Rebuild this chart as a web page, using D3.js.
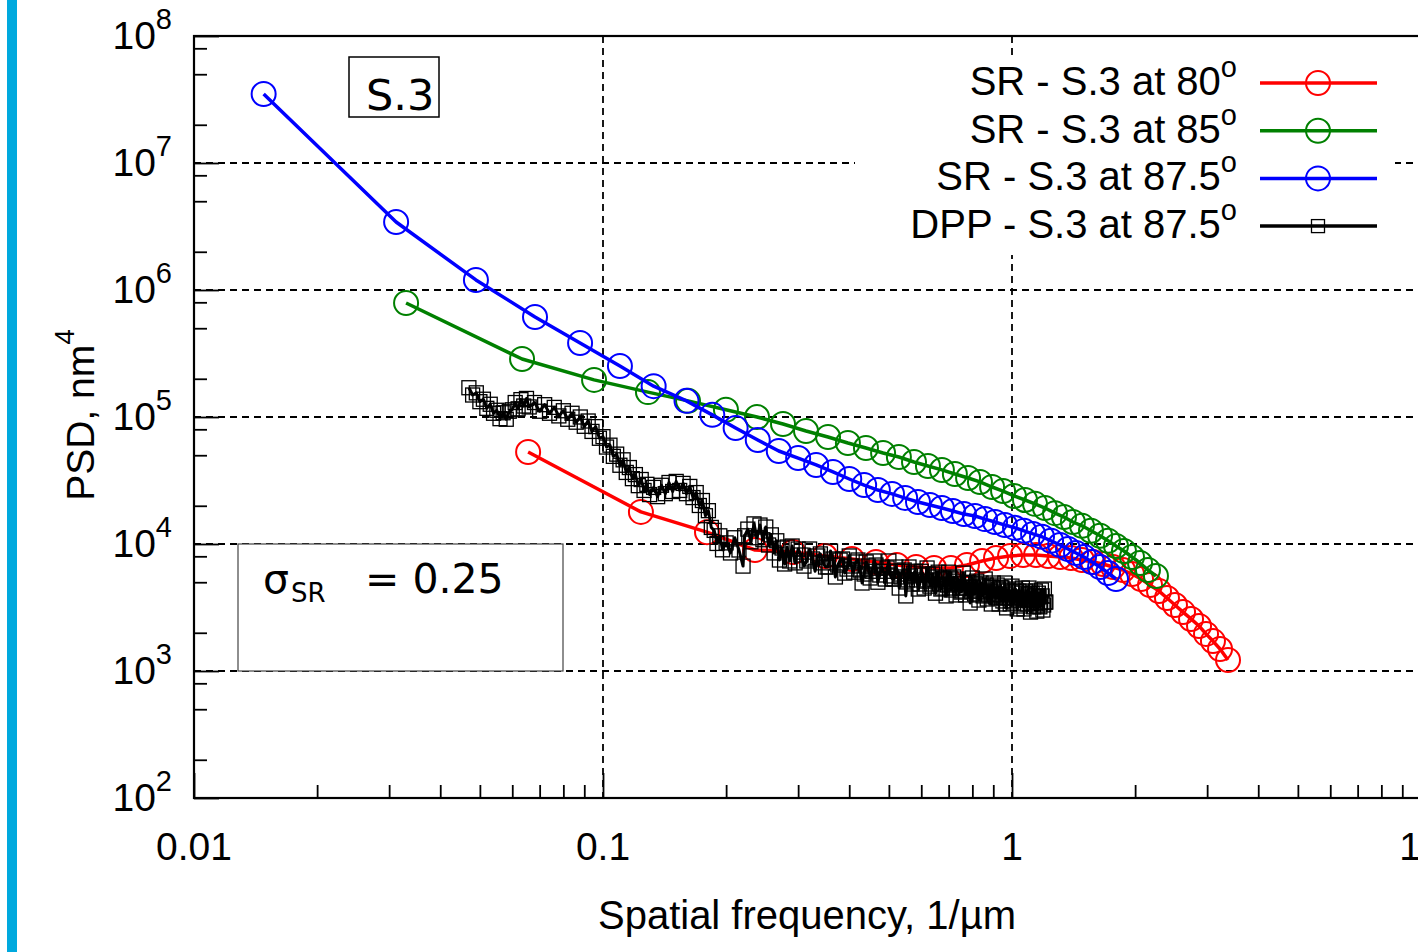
<!DOCTYPE html>
<html><head><meta charset="utf-8">
<script src="https://cdn.jsdelivr.net/npm/d3@7"></script>
<style>body{margin:0;background:#fff;overflow:hidden}svg{display:block}</style>
</head><body>
<svg id="c" width="1418" height="952"></svg>
<script>
// ---------------- data (frequency 1/µm, PSD nm^4) ----------------
const sr80 = [[0.0656,5.30e4],[0.1238,1.79e4],[0.1796,1.24e4],[0.2353,8.97e3],[0.2914,8.65e3],[0.349,8.05e3],[0.406,7.62e3],[0.465,7.22e3],[0.523,6.83e3],[0.583,6.59e3],[0.645,6.47e3],[0.709,6.47e3],[0.776,6.83e3],[0.845,7.35e3],[0.914,7.76e3],[0.989,8.05e3],[1.064,8.19e3],[1.145,8.19e3],[1.225,8.05e3],[1.311,7.90e3],[1.394,7.76e3],[1.483,7.48e3],[1.578,7.22e3],[1.669,6.96e3],[1.766,6.59e3],[1.868,6.24e3],[1.965,5.80e3],[2.068,5.30e3],[2.175,4.75e3],[2.288,4.26e3],[2.393,3.76e3],[2.503,3.31e3],[2.619,2.91e3],[2.740,2.57e3],[2.866,2.26e3],[2.981,1.96e3],[3.100,1.72e3],[3.226,1.49e3],[3.374,1.22e3]];
const sr85 = [[0.0330,7.90e5],[0.0634,2.86e5],[0.0951,1.96e5],[0.1288,1.57e5],[0.1614,1.34e5],[0.1998,1.14e5],[0.238,1.00e5],[0.2755,8.81e4],[0.3136,7.76e4],[0.355,6.96e4],[0.397,6.24e4],[0.4395,5.70e4],[0.484,5.21e4],[0.529,4.84e4],[0.576,4.42e4],[0.623,4.11e4],[0.674,3.83e4],[0.725,3.56e4],[0.781,3.31e4],[0.835,3.08e4],[0.894,2.81e4],[0.951,2.61e4],[1.011,2.39e4],[1.076,2.22e4],[1.138,2.07e4],[1.204,1.92e4],[1.274,1.75e4],[1.340,1.63e4],[1.409,1.49e4],[1.483,1.39e4],[1.560,1.27e4],[1.642,1.16e4],[1.717,1.06e4],[1.796,9.64e3],[1.878,8.81e3],[1.965,7.90e3],[2.056,7.09e3],[2.150,6.24e3],[2.249,5.60e3]];
const sr875 = [[0.0148,3.49e7],[0.0312,3.43e6],[0.0489,1.20e6],[0.0682,6.13e5],[0.0879,3.83e5],[0.110,2.52e5],[0.133,1.75e5],[0.160,1.34e5],[0.185,1.04e5],[0.211,8.19e4],[0.239,6.59e4],[0.269,5.40e4],[0.300,4.75e4],[0.332,4.19e4],[0.365,3.69e4],[0.400,3.25e4],[0.435,2.91e4],[0.470,2.66e4],[0.509,2.48e4],[0.548,2.30e4],[0.589,2.14e4],[0.630,2.03e4],[0.674,1.92e4],[0.717,1.82e4],[0.763,1.72e4],[0.812,1.66e4],[0.859,1.57e4],[0.909,1.49e4],[0.961,1.41e4],[1.017,1.34e4],[1.070,1.27e4],[1.126,1.20e4],[1.184,1.14e4],[1.246,1.06e4],[1.311,9.82e3],[1.371,9.13e3],[1.434,8.50e3],[1.500,7.90e3],[1.569,7.22e3],[1.642,6.59e3],[1.717,5.91e3],[1.796,5.30e3]];
const dpp = [[0.047,1.70e5],[0.048,1.49e5],[0.049,1.55e5],[0.050,1.32e5],[0.051,1.38e5],[0.052,1.17e5],[0.053,1.26e5],[0.054,1.07e5],[0.055,1.13e5],[0.056,9.7e4],[0.057,1.08e5],[0.058,9.6e4],[0.059,1.11e5],[0.060,1.14e5],[0.061,1.30e5],[0.062,1.16e5],[0.063,1.37e5],[0.064,1.22e5],[0.065,1.40e5],[0.066,1.20e5],[0.068,1.30e5],[0.070,1.11e5],[0.072,1.25e5],[0.074,1.07e5],[0.076,1.19e5],[0.078,1.02e5],[0.080,1.12e5],[0.082,9.6e4],[0.084,1.07e5],[0.086,9.1e4],[0.088,1.0e5],[0.090,8.45e4],[0.092,9.3e4],[0.094,7.7e4],[0.096,8.4e4],[0.098,6.8e4],[0.100,7.0e4],[0.102,5.8e4],[0.104,6.0e4],[0.106,4.9e4],[0.108,5.1e4],[0.110,4.17e4],[0.112,4.6e4],[0.114,3.66e4],[0.116,4.0e4],[0.118,3.27e4],[0.120,3.52e4],[0.122,2.88e4],[0.124,3.22e4],[0.126,2.64e4],[0.128,2.95e4],[0.130,2.45e4],[0.133,2.79e4],[0.136,2.36e4],[0.139,2.90e4],[0.142,2.49e4],[0.145,3.05e4],[0.148,2.59e4],[0.151,3.11e4],[0.154,2.64e4],[0.157,3.0e4],[0.160,2.49e4],[0.163,2.84e4],[0.166,2.32e4],[0.169,2.54e4],[0.172,2.01e4],[0.175,2.2e4],[0.178,1.67e4],[0.181,1.83e4],[0.184,1.35e4],[0.187,1.28e4],[0.190,1.01e4],[0.193,1.16e4],[0.196,9.0e3],[0.200,1.02e4],[0.205,8.5e3],[0.210,1.12e4],[0.215,8.97e3],[0.220,6.7e3],[0.222,1.16e4],[0.226,1.31e4],[0.230,1.04e4],[0.234,1.44e4],[0.238,1.12e4],[0.242,1.41e4],[0.246,1.08e4],[0.250,1.36e4],[0.254,9.82e3],[0.258,1.18e4],[0.262,8.5e3],[0.266,1.06e4],[0.270,7.48e3],[0.274,9.3e3],[0.278,6.96e3],[0.282,9.47e3],[0.286,7.35e3],[0.290,9.64e3],[0.295,7.1e3],[0.300,9.13e3],
[0.31,6.7e3],[0.32,9.13e3],[0.33,6.1e3],[0.34,8.35e3],[0.35,6.59e3],[0.36,8.8e3],[0.37,5.5e3],[0.38,7.48e3],[0.39,5.9e3],[0.40,8.05e3],[0.41,6.0e3],[0.42,7.48e3],[0.43,4.93e3],[0.44,7.22e3],[0.45,5.4e3],[0.46,7.35e3],[0.47,5.0e3],[0.48,6.59e3],[0.49,5.3e3],[0.50,7.35e3],[0.51,5.3e3],[0.52,6.59e3],[0.53,4.5e3],[0.54,6.1e3],[0.55,3.9e3],[0.56,6.59e3],[0.57,4.84e3],[0.58,6.1e3],[0.59,4.42e3],[0.60,6.1e3],[0.61,4.5e3],[0.62,6.47e3],[0.63,4.66e3],[0.64,5.8e3],[0.65,4.1e3],[0.66,6.0e3],[0.67,4.42e3],[0.68,5.4e3],[0.69,3.9e3],[0.70,6.0e3],[0.71,4.34e3],[0.72,5.5e3],[0.73,3.97e3],[0.74,5.3e3],[0.75,4.18e3],[0.76,5.9e3],[0.77,3.97e3],[0.78,4.93e3],[0.79,3.43e3],[0.80,5.4e3],[0.81,4.04e3],[0.82,5.1e3],[0.83,3.62e3],[0.84,4.93e3],[0.85,3.9e3],[0.86,5.3e3],[0.87,3.69e3],[0.88,4.57e3],[0.89,3.37e3],[0.90,4.93e3],[0.91,3.83e3],[0.92,4.75e3],[0.93,3.37e3],[0.94,4.57e3],[0.95,3.56e3],[0.96,4.93e3],[0.97,3.14e3],[0.98,4.26e3],[0.99,3.37e3],[1.00,4.66e3],[1.01,3.43e3],[1.02,4.42e3],[1.03,3.08e3],[1.04,4.26e3],[1.05,3.25e3],[1.06,4.5e3],[1.07,3.08e3],[1.08,4.26e3],[1.09,3.37e3],[1.10,4.5e3],[1.11,2.91e3],[1.12,4.1e3],[1.13,3.2e3],[1.14,4.26e3],[1.15,2.96e3],[1.16,4.1e3],[1.17,3.2e3],[1.18,4.34e3],[1.19,3.02e3],[1.20,4.42e3],[1.21,3.49e3],
[0.305,8.19e3],[0.315,7.35e3],[0.325,7.62e3],[0.335,8.05e3],[0.345,7.1e3],[0.355,6.59e3],[0.365,7.62e3],[0.375,6.83e3],[0.385,7.62e3],[0.395,6.35e3],[0.405,6.71e3],[0.415,7.22e3],[0.425,6.24e3],[0.435,5.8e3],[0.445,6.71e3],[0.455,6.1e3],[0.465,6.83e3],[0.475,5.7e3],[0.485,6.1e3],[0.495,6.47e3],[0.505,5.6e3],[0.515,5.3e3],[0.525,6.1e3],[0.535,5.5e3],[0.545,6.24e3],[0.555,5.21e3],[0.565,5.6e3],[0.575,5.9e3],[0.585,5.21e3],[0.595,4.84e3],[0.605,5.7e3],[0.615,5.1e3],[0.625,5.8e3],[0.635,4.84e3],[0.645,5.21e3],[0.655,5.5e3],[0.665,4.84e3],[0.675,4.5e3],[0.685,5.3e3],[0.695,4.75e3],[0.705,5.4e3],[0.715,4.5e3],[0.725,4.84e3],[0.735,5.1e3],[0.745,4.5e3],[0.755,4.26e3],[0.765,4.93e3],[0.775,4.5e3],[0.785,5.0e3],[0.795,4.26e3],[0.805,4.57e3],[0.815,4.84e3],[0.825,4.26e3],[0.835,3.97e3],[0.845,4.66e3],[0.855,4.18e3],[0.865,4.75e3],[0.875,4.04e3],[0.885,4.26e3],[0.895,4.57e3],[0.905,3.97e3],[0.915,3.76e3],[0.925,4.42e3],[0.935,3.97e3],[0.945,4.5e3],[0.955,3.76e3],[0.965,4.04e3],[0.975,4.34e3],[0.985,3.76e3],[0.995,3.56e3],[1.005,4.18e3],[1.015,3.76e3],[1.025,4.26e3],[1.035,3.62e3],[1.045,3.83e3],[1.055,4.1e3],[1.065,3.62e3],[1.075,3.37e3],[1.085,3.97e3],[1.095,3.62e3],[1.105,4.04e3],[1.115,3.43e3],[1.125,3.69e3],[1.135,3.9e3],[1.145,3.43e3],[1.155,3.25e3],[1.165,3.83e3],[1.175,3.43e3],[1.185,3.9e3],[1.195,3.31e3],[1.205,3.49e3]];

const seriesNames = ['SR - S.3 at 80','SR - S.3 at 85','SR - S.3 at 87.5','DPP - S.3 at 87.5'];
const seriesColors = ['#ff0000','#008000','#0000ff','#000000'];
const xTickValues = [0.01,0.1,1,10];
const xTickLabels = ['0.01','0.1','1','10'];
const yTickValues = [1e2,1e3,1e4,1e5,1e6,1e7,1e8];
const yTickExps = ['2','3','4','5','6','7','8'];
const xTitle = 'Spatial frequency, 1/µm';
const yTitle = 'PSD, nm';
const sampleLabel = 'S.3';
const sigmaValue = '= 0.25';

// ---------------- drawing ----------------
const svg = d3.select('#c');
const W = 1418, H = 952;
const L = 194, R = 1421, T = 36, B = 798;
const x = d3.scaleLog().domain([0.01, 10]).range([L, R]);
const y = d3.scaleLog().domain([1e2, 1e8]).range([B, T]);

svg.append('rect').attr('width', W).attr('height', H).attr('fill', '#fff');
svg.append('rect').attr('x', 7).attr('y', 0).attr('width', 10).attr('height', H).attr('fill', '#00a9de');

const xMinor = [];
[0.01, 0.1, 1].forEach(d => { for (let k = 2; k <= 9; k++) xMinor.push(d * k); });
const yMinor = [];
[1e2, 1e3, 1e4, 1e5, 1e6, 1e7].forEach(d => { [2, 5, 8].forEach(k => yMinor.push(d * k)); });

// grid
const grid = svg.append('g').attr('stroke', '#000').attr('stroke-width', 1.8).attr('stroke-dasharray', '7,5');
grid.selectAll('.gx').data(xTickValues.slice(1)).join('line')
  .attr('x1', d => x(d)).attr('x2', d => x(d)).attr('y1', T).attr('y2', B);
grid.selectAll('.gy').data(yTickValues.slice(1)).join('line')
  .attr('x1', L).attr('x2', R).attr('y1', d => y(d)).attr('y2', d => y(d));

// boxes that hide the grid
svg.append('rect').attr('x', 855).attr('y', 55).attr('width', 540).attr('height', 200).attr('fill', '#fff');
svg.append('rect').attr('x', 349).attr('y', 57).attr('width', 90).attr('height', 60)
  .attr('fill', '#fff').attr('stroke', '#000').attr('stroke-width', 1.5);
svg.append('text').attr('x', 366).attr('y', 110).attr('font-family', 'DejaVu Sans')
  .attr('font-size', 43).attr('fill', '#000').text(sampleLabel);
svg.append('rect').attr('x', 238).attr('y', y(1e4)).attr('width', 325).attr('height', y(1e3) - y(1e4))
  .attr('fill', '#fff').attr('stroke', '#444').attr('stroke-width', 1.2);
svg.append('text').attr('x', 263).attr('y', 593).attr('font-family', 'DejaVu Sans').attr('font-size', 41).text('σ');
svg.append('text').attr('x', 291).attr('y', 602).attr('font-family', 'DejaVu Sans').attr('font-size', 26).text('SR');
svg.append('text').attr('x', 365).attr('y', 593).attr('font-family', 'DejaVu Sans').attr('font-size', 41).text(sigmaValue);

// series
const all = [sr80, sr85, sr875];
const line = d3.line().x(d => x(d[0])).y(d => y(d[1]));
all.forEach((s, i) => {
  const g = svg.append('g');
  g.append('path').datum(s).attr('d', line).attr('fill', 'none')
    .attr('stroke', seriesColors[i]).attr('stroke-width', 3.5).attr('stroke-linejoin', 'round');
  g.selectAll('circle').data(s).join('circle')
    .attr('cx', d => x(d[0])).attr('cy', d => y(d[1])).attr('r', 12)
    .attr('fill', 'none').attr('stroke', seriesColors[i]).attr('stroke-width', 2);
});
const dppSorted = dpp.slice().sort((a, b) => a[0] - b[0]);
const gd = svg.append('g');
gd.append('path').datum(dppSorted).attr('d', line).attr('fill', 'none')
  .attr('stroke', '#000').attr('stroke-width', 3).attr('stroke-linejoin', 'round');
gd.selectAll('rect').data(dppSorted).join('rect')
  .attr('x', d => x(d[0]) - 7).attr('y', d => y(d[1]) - 7).attr('width', 14).attr('height', 14)
  .attr('fill', 'none').attr('stroke', '#000').attr('stroke-width', 1.3);

// axes ticks (inward)
const axL = svg.append('g').attr('transform', `translate(${L},0)`)
  .call(d3.axisRight(y).tickValues(yTickValues).tickSize(25).tickFormat(''));
const axLm = svg.append('g').attr('transform', `translate(${L},0)`)
  .call(d3.axisRight(y).tickValues(yMinor).tickSize(13).tickFormat(''));
const axB = svg.append('g').attr('transform', `translate(0,${B})`)
  .call(d3.axisTop(x).tickValues(xTickValues).tickSize(25).tickFormat(''));
const axBm = svg.append('g').attr('transform', `translate(0,${B})`)
  .call(d3.axisTop(x).tickValues(xMinor).tickSize(13).tickFormat(''));
[axL, axLm, axB, axBm].forEach(a => {
  a.select('.domain').remove();
  a.selectAll('line').attr('stroke', '#000').attr('stroke-width', 1.8);
});

// border
svg.append('rect').attr('x', L).attr('y', T).attr('width', R - L).attr('height', B - T)
  .attr('fill', 'none').attr('stroke', '#000').attr('stroke-width', 2.2);

// tick labels
const ff = 'Liberation Sans, Arial, sans-serif';
svg.append('g').selectAll('text').data(xTickValues).join('text')
  .attr('x', d => x(d)).attr('y', 860).attr('text-anchor', 'middle')
  .attr('font-family', ff).attr('font-size', 39).text((d, i) => xTickLabels[i]);
const yl = svg.append('g').selectAll('text').data(yTickValues).join('text')
  .attr('x', 172).attr('y', d => y(d) + 13).attr('text-anchor', 'end')
  .attr('font-family', ff).attr('font-size', 39);
yl.append('tspan').text('10');
yl.append('tspan').attr('font-size', 29).attr('dy', -20).text((d, i) => yTickExps[i]);

// axis titles
svg.append('text').attr('x', 807).attr('y', 929).attr('text-anchor', 'middle')
  .attr('font-family', ff).attr('font-size', 40).text(xTitle);
const yt = svg.append('text').attr('transform', 'translate(94,415) rotate(-90)')
  .attr('text-anchor', 'middle').attr('font-family', ff).attr('font-size', 39);
yt.append('tspan').text(yTitle);
yt.append('tspan').attr('font-size', 28).attr('dy', -20).text('4');

// legend
seriesNames.forEach((name, i) => {
  const ly = 83 + i * 47.7;
  const t = svg.append('text').attr('x', 1237).attr('y', ly + 12).attr('text-anchor', 'end')
    .attr('font-family', ff).attr('font-size', 40);
  t.append('tspan').text(name);
  t.append('tspan').attr('font-size', 29).attr('dy', -18).text('o');
  svg.append('line').attr('x1', 1260).attr('x2', 1377).attr('y1', ly).attr('y2', ly)
    .attr('stroke', seriesColors[i]).attr('stroke-width', 3.5);
  if (i < 3) {
    svg.append('circle').attr('cx', 1318).attr('cy', ly).attr('r', 12)
      .attr('fill', 'none').attr('stroke', seriesColors[i]).attr('stroke-width', 2);
  } else {
    svg.append('rect').attr('x', 1311.5).attr('y', ly - 6.5).attr('width', 13).attr('height', 13)
      .attr('fill', 'none').attr('stroke', '#000').attr('stroke-width', 1.3);
  }
});
</script>
</body></html>
